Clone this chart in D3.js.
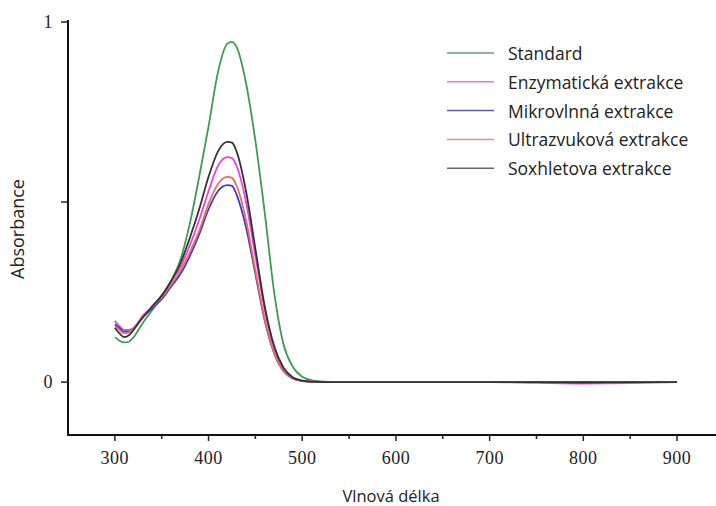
<!DOCTYPE html>
<html>
<head>
<meta charset="utf-8">
<script src="https://cdn.jsdelivr.net/npm/d3@7"></script>
<style>
  body { margin: 0; background: #fff; }
  svg { display: block; }
</style>
</head>
<body>
<svg width="716" height="506"></svg>
<script>
// wavelengths (nm)
const wavelengths = [300,305,310,315,320,330,340,350,360,370,380,390,400,410,420,425,430,440,450,460,470,480,490,500,510,520,540,560,600,650,700,750,800,850,900];

// absorbance values
const standard    = [0.125,0.115,0.11,0.112,0.125,0.165,0.2,0.235,0.28,0.34,0.44,0.57,0.71,0.86,0.94,0.945,0.93,0.83,0.67,0.47,0.25,0.105,0.042,0.015,0.005,0.002,0,0,0,0,0,0,0,0,0];
const enzymaticka = [0.17,0.155,0.145,0.145,0.15,0.185,0.21,0.24,0.28,0.32,0.38,0.45,0.53,0.6,0.625,0.622,0.6,0.5,0.35,0.2,0.095,0.037,0.013,0.004,0.001,0,0,0,0,0,0,-0.002,-0.004,-0.003,0];
const mikrovlnna  = [0.16,0.15,0.14,0.14,0.15,0.18,0.205,0.23,0.265,0.3,0.35,0.41,0.48,0.53,0.547,0.545,0.52,0.43,0.3,0.17,0.08,0.03,0.01,0.003,0.001,0,0,0,0,0,0,0,-0.002,0,0];
const ultrazvuk   = [0.155,0.145,0.135,0.138,0.15,0.182,0.208,0.235,0.27,0.31,0.36,0.42,0.495,0.55,0.57,0.567,0.545,0.45,0.31,0.175,0.082,0.031,0.011,0.003,0.001,0,0,0,0,0,0,0,0,0,0];
const soxhlet     = [0.15,0.135,0.125,0.13,0.145,0.18,0.21,0.24,0.28,0.33,0.4,0.48,0.57,0.64,0.667,0.665,0.64,0.53,0.37,0.21,0.1,0.04,0.013,0.004,0.001,0,0,0,0,0,0,0,0,0,0];

const seriesNames  = ["Standard", "Enzymatická extrakce", "Mikrovlnná extrakce", "Ultrazvuková extrakce", "Soxhletova extrakce"];
const seriesValues = [standard, enzymaticka, mikrovlnna, ultrazvuk, soxhlet];
const seriesColors = ["#3f9a55", "#e845e0", "#3b3bc8", "#e8705e", "#333333"];
const legendColors = ["#6b9a72", "#f070ee", "#5a5ab0", "#e89088", "#666666"];

const xTicks = [300,400,500,600,700,800,900];
const xMinor = [350,450,550,650,750,850];
const yTicks = [0, 0.5, 1];
const yLabels = {0: "0", 1: "1"};

const svg = d3.select("svg");

// scales
const x = d3.scaleLinear().domain([250, 941.6]).range([68, 716]);
const y = d3.scaleLinear().domain([-0.147, 1]).range([435, 22]);

// x axis
const xAxis = svg.append("g").attr("transform", "translate(0,435)");
xAxis.append("line")
    .attr("x1", 68).attr("x2", 716)
    .attr("stroke", "#111").attr("stroke-width", 2);
xAxis.selectAll(".major").data(xTicks).enter().append("line")
    .attr("x1", d => x(d)).attr("x2", d => x(d))
    .attr("y1", 0).attr("y2", 6)
    .attr("stroke", "#222").attr("stroke-width", 1.5);
xAxis.selectAll(".minor").data(xMinor).enter().append("line")
    .attr("x1", d => x(d)).attr("x2", d => x(d))
    .attr("y1", 0).attr("y2", 4)
    .attr("stroke", "#222").attr("stroke-width", 1.5);
xAxis.selectAll("text").data(xTicks).enter().append("text")
    .attr("x", d => x(d)).attr("y", 29)
    .attr("text-anchor", "middle")
    .style("font-family", "'Liberation Serif', serif")
    .style("font-size", "18px")
    .style("letter-spacing", "0.5px")
    .attr("fill", "#222")
    .text(d => d);

// y axis
const yAxis = svg.append("g").attr("transform", "translate(68,0)");
yAxis.append("line")
    .attr("y1", 20).attr("y2", 436)
    .attr("stroke", "#111").attr("stroke-width", 2);
yAxis.selectAll(".tick").data(yTicks).enter().append("line")
    .attr("y1", d => y(d)).attr("y2", d => y(d))
    .attr("x1", -7).attr("x2", 0)
    .attr("stroke", "#222").attr("stroke-width", 1.5);
yAxis.selectAll("text").data(yTicks.filter(d => yLabels[d])).enter().append("text")
    .attr("x", -20).attr("y", d => y(d) + 6)
    .attr("text-anchor", "middle")
    .style("font-family", "'Liberation Serif', serif")
    .style("font-size", "18px")
    .attr("fill", "#222")
    .text(d => yLabels[d]);

// lines
const line = d3.line()
    .x(d => x(d[0]))
    .y(d => y(d[1]))
    .curve(d3.curveMonotoneX);

seriesValues.forEach((vals, i) => {
    svg.append("path")
        .datum(wavelengths.map((w, j) => [w, vals[j]]))
        .attr("fill", "none")
        .attr("stroke", seriesColors[i])
        .attr("stroke-width", 1.8)
        .attr("d", line);
});

// legend
const legend = svg.append("g");
seriesNames.forEach((name, i) => {
    const ly = 54 + i * 28.8;
    legend.append("line")
        .attr("x1", 447).attr("x2", 494)
        .attr("y1", ly - 1).attr("y2", ly - 1)
        .attr("stroke", legendColors[i]).attr("stroke-width", 1.5);
    legend.append("text")
        .attr("x", 508).attr("y", ly + 6)
        .style("font-family", "'Open Sans', sans-serif")
        .style("font-size", "17.5px")
        .attr("fill", "#222")
        .text(name);
});

// axis titles
svg.append("text")
    .attr("x", 391).attr("y", 502)
    .attr("text-anchor", "middle")
    .style("font-family", "'Open Sans', sans-serif")
    .style("font-size", "16.5px")
    .attr("fill", "#222")
    .text("Vlnová délka");

svg.append("text")
    .attr("transform", "translate(24,229) rotate(-90)")
    .attr("text-anchor", "middle")
    .style("font-family", "'Open Sans', sans-serif")
    .style("font-size", "18px")
    .attr("fill", "#222")
    .text("Absorbance");
</script>
</body>
</html>
